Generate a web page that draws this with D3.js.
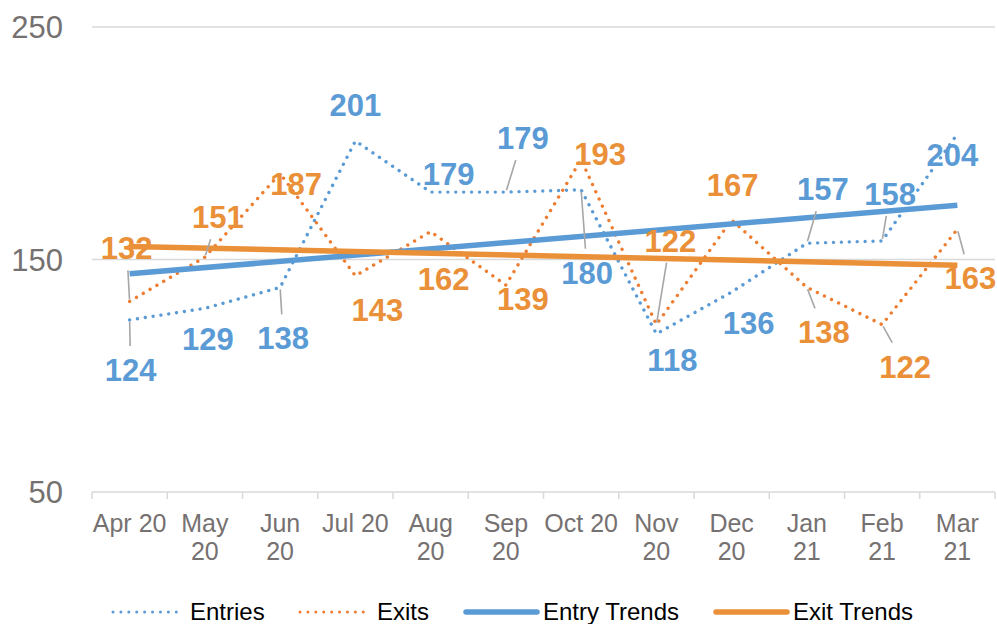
<!DOCTYPE html>
<html>
<head>
<meta charset="utf-8">
<script src="https://cdn.jsdelivr.net/npm/d3@7"></script>
<style>
  body { margin: 0; background: #fff; }
  svg { font-family: "Liberation Sans", Arial, sans-serif; display: block; }
</style>
</head>
<body>
<svg id="chart" width="997" height="624"></svg>
<script>
"use strict";

// data
var months = ["Apr 20", "May 20", "Jun 20", "Jul 20", "Aug 20", "Sep 20",
              "Oct 20", "Nov 20", "Dec 20", "Jan 21", "Feb 21", "Mar 21"];
var entries = [124, 129, 138, 201, 179, 179, 180, 118, 136, 157, 158, 204];
var exits   = [132, 151, 187, 143, 162, 139, 193, 122, 167, 138, 122, 163];
var yTicks  = [50, 150, 250];
var legendNames = ["Entries", "Exits", "Entry Trends", "Exit Trends"];

// label placement (offset of label centre / baseline from the point) + leader flag
var entryLabelPos = [[1,61,1],[3,42,0],[3,62,1],[0,-25,0],[18,-7,0],[17,-43,1],
                     [6,94,1],[16,37,0],[17,42,0],[16,-43,1],[8,-36,1],[-5,32,0]];
var exitLabelPos  = [[-3,-42,1],[13,-29,1],[16,22,0],[22,45,0],[13,58,0],[17,25,0],
                     [19,5,0],[14,-73,1],[1,-24,0],[17,56,1],[23,53,1],[13,60,1]];

var blue = "#5B9BD5", orange = "#ED7D31", orangeTrend = "#EA9038",
    axisGrey = "#767171", gridCol = "#D9D9D9", leaderCol = "#A6A6A6";

var svg = d3.select("#chart");
var plot = {left: 92, right: 995, top: 27, bottom: 492};

var x = d3.scaleBand().domain(months).range([plot.left, plot.right]);
var y = d3.scaleLinear().domain([50, 250]).range([plot.bottom, plot.top]);
var cx = function(i){ return x(months[i]) + x.bandwidth()/2; };

//gridlines
svg.append("g").selectAll("line")
  .data(yTicks.filter(function(d){ return d > 50; })).enter()
  .append("line")
  .attr("x1", plot.left).attr("x2", plot.right)
  .attr("y1", function(d){ return y(d); }).attr("y2", function(d){ return y(d); })
  .style("stroke", gridCol).style("stroke-width", 1.5);

//y labels
svg.append("g").selectAll("text")
  .data(yTicks).enter().append("text")
  .text(function(d){ return d; })
  .attr("x", 63).attr("y", function(d){ return y(d); })
  .attr("dy", "0.36em")
  .style("text-anchor", "end").style("font-size", "31px").style("fill", axisGrey);

//x axis line + ticks between categories
svg.append("line")
  .attr("x1", plot.left).attr("x2", plot.right)
  .attr("y1", plot.bottom).attr("y2", plot.bottom)
  .style("stroke", gridCol).style("stroke-width", 1.5);
var tickPos = months.map(function(m){ return x(m); }).concat([plot.right]);
svg.append("g").selectAll("line").data(tickPos).enter().append("line")
  .attr("x1", function(d){ return d; }).attr("x2", function(d){ return d; })
  .attr("y1", plot.bottom).attr("y2", plot.bottom + 7)
  .style("stroke", gridCol).style("stroke-width", 1.5);

//x labels, wrapped when wider than the category
var xLab = svg.append("g").selectAll("text").data(months).enter().append("text")
  .attr("x", function(d, i){ return cx(i); })
  .attr("y", 532)
  .style("text-anchor", "middle").style("font-size", "25px").style("fill", axisGrey)
  .text(function(d){ return d; });
xLab.each(function(d, i){
  var t = d3.select(this);
  if (this.getComputedTextLength() > x.step() - 1) {
    var parts = d.split(" ");
    t.text(null);
    parts.forEach(function(p, k){
      t.append("tspan").attr("x", cx(i)).attr("y", 532 + k*28).text(p);
    });
  }
});

//regression trend
function trend(vals){
  var n = vals.length, mx = (n + 1)/2, my = d3.mean(vals), sxy = 0, sxx = 0;
  vals.forEach(function(v, i){ sxy += (i + 1 - mx)*(v - my); sxx += (i + 1 - mx)*(i + 1 - mx); });
  var b = sxy/sxx, a = my - b*mx;
  return [[0, a + b], [n - 1, a + b*n]];
}

var line = d3.line().x(function(d, i){ return cx(i); }).y(function(d){ return y(d); });
var tline = d3.line().x(function(d){ return cx(d[0]); }).y(function(d){ return y(d[1]); });

function dotted(sel, col){
  return sel.style("fill", "none").style("stroke", col).style("stroke-width", 3.4)
    .style("stroke-linecap", "round").style("stroke-dasharray", "0.01 7.9");
}

dotted(svg.append("path").attr("d", line(entries)), blue);
dotted(svg.append("path").attr("d", line(exits)), orange);
svg.append("path").attr("d", tline(trend(entries)))
  .style("fill", "none").style("stroke", blue).style("stroke-width", 5.5);
svg.append("path").attr("d", tline(trend(exits)))
  .style("fill", "none").style("stroke", orangeTrend).style("stroke-width", 5.5);

//data labels with leader lines
function labels(vals, pos, col){
  var g = svg.append("g");
  vals.forEach(function(v, i){
    var px = cx(i), py = y(v);
    var lx = px + pos[i][0], ly = py + pos[i][1];
    if (pos[i][2]) {
      // aim at the label centre, stop at its box
      var ccx = lx, ccy = ly - 12;
      var dx = ccx - px, dy = ccy - py;
      var s = Math.min(dx ? 28/Math.abs(dx) : 99, dy ? 23/Math.abs(dy) : 99);
      var t = Math.max(0, 1 - s);
      var len = Math.sqrt(dx*dx + dy*dy);
      g.append("line")
        .attr("x1", px + dx/len*2).attr("y1", py + dy/len*2)
        .attr("x2", px + dx*t).attr("y2", py + dy*t)
        .style("stroke", leaderCol).style("stroke-width", 1.6);
    }
    g.append("text").text(v)
      .attr("x", lx).attr("y", ly)
      .style("text-anchor", "middle").style("font-size", "31px")
      .style("font-weight", "bold").style("fill", col);
  });
}
labels(entries, entryLabelPos, blue);
labels(exits, exitLabelPos, orangeTrend);

//legend
var legendX = [113, 300, 466, 716];
var leg = svg.append("g").selectAll("g").data(legendNames).enter().append("g")
  .attr("transform", function(d, i){ return "translate(" + legendX[i] + ",612)"; });
leg.each(function(d, i){
  var g = d3.select(this);
  var l = g.append("line").attr("x1", 0).attr("x2", 71).attr("y1", 0).attr("y2", 0);
  if (i < 2) dotted(l, i === 0 ? blue : orange).style("stroke-width", 3);
  else l.style("stroke", i === 2 ? blue : orangeTrend).style("stroke-width", 5.5)
        .style("stroke-linecap", "round");
  g.append("text").text(d).attr("x", 77).attr("y", 8)
    .style("font-size", "24px").style("fill", "#000");
});
</script>
</body>
</html>
